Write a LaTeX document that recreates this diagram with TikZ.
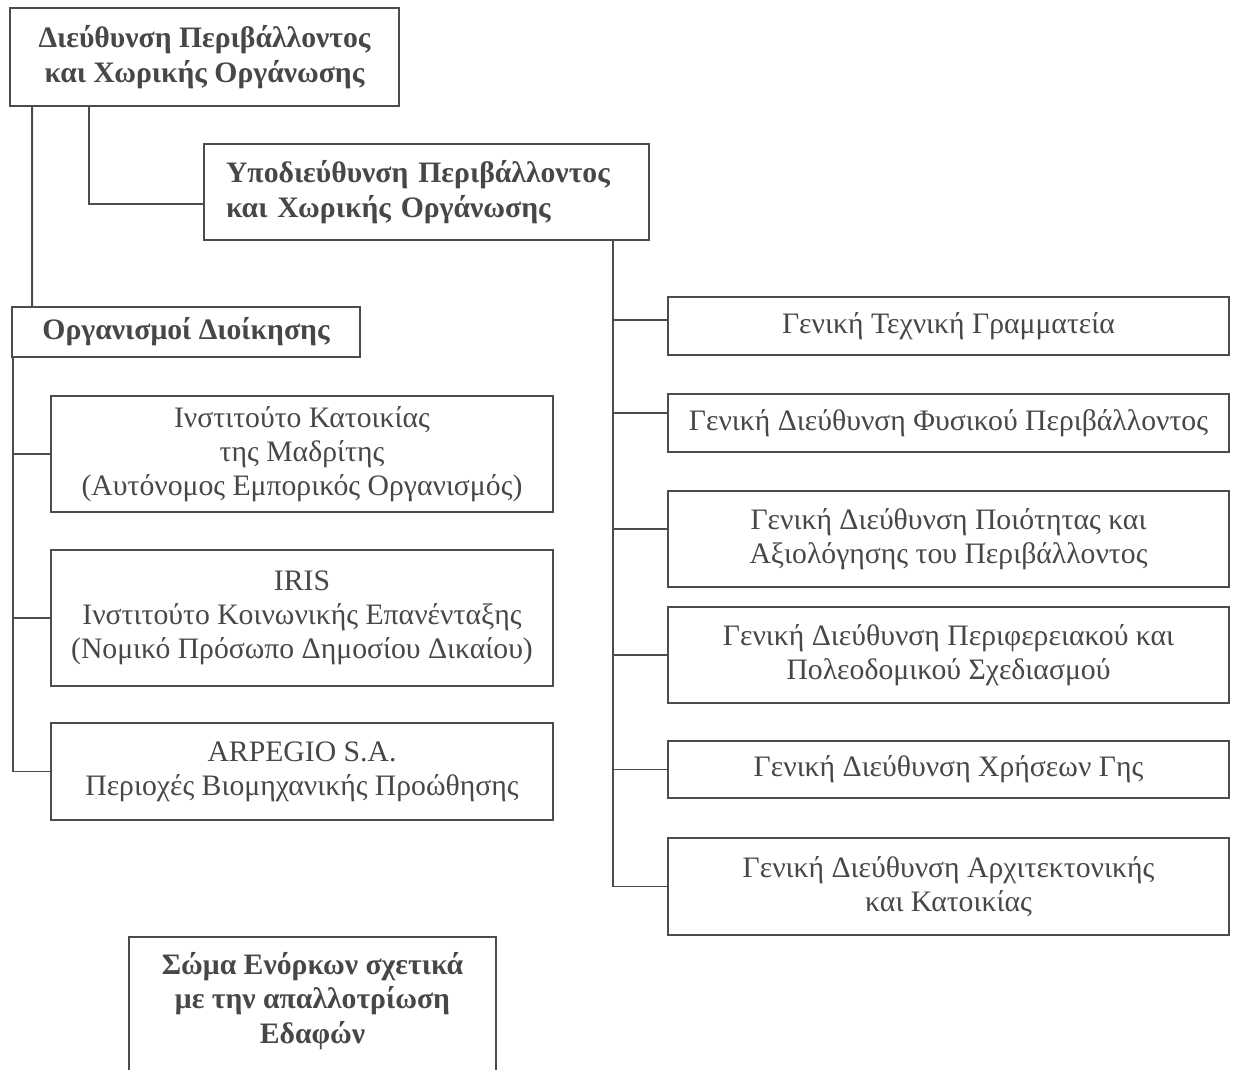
\documentclass[tikz,border=0pt]{standalone}
\usepackage{fontspec}
\setmainfont{Liberation Serif}
\usetikzlibrary{positioning}
\definecolor{boxline}{gray}{0.3}
\definecolor{boxtext}{gray}{0.28}

\begin{document}
\begin{tikzpicture}[
  x=0.02cm, y=-0.02cm,
  unit/.style={rectangle, draw=boxline, line width=1.1pt, text=boxtext, align=center,
               font=\fontsize{16.9}{19.4}\selectfont, inner sep=0pt},
  head/.style={unit, font=\fontsize{16.9}{19.8}\selectfont\bfseries},
  dept/.style={unit, minimum width=11.22cm},
  body/.style={unit, minimum width=10.04cm},
  link/.style={draw=boxline, line width=1.1pt},
]
  \useasboundingbox (0,0) rectangle (1236,1069);
  \clip (0,0) rectangle (1236,1069);

  \node[head, minimum width=7.78cm, minimum height=1.96cm] (D) at (204.5,57)
    {Διεύθυνση Περιβάλλοντος\\και Χωρικής Οργάνωσης};
  \node[head, align=left, text width=8.02cm, inner xsep=0.44cm, minimum height=1.92cm] (SUB) at (426.5,192)
    {Υποδιεύθυνση Περιβάλλοντος\\και Χωρικής Οργάνωσης};
  \node[head, minimum width=6.96cm, minimum height=1.0cm] (ORG) at (186,332) {Οργανισμοί Διοίκησης};

  \node[body, minimum height=2.32cm] (IVIMA) at (302,454)
    {Ινστιτούτο Κατοικίας\\της Μαδρίτης\\(Αυτόνομος Εμπορικός Οργανισμός)};
  \node[body, minimum height=2.72cm] (IRIS) at (302,618)
    {IRIS\\Ινστιτούτο Κοινωνικής Επανένταξης\\(Νομικό Πρόσωπο Δημοσίου Δικαίου)};
  \node[body, minimum height=1.94cm] (ARP) at (302,771.5)
    {ARPEGIO S.A.\\Περιοχές Βιομηχανικής Προώθησης};

  \node[dept, minimum height=1.16cm] (GTG) at (948.5,326) {Γενική Τεχνική Γραμματεία};
  \node[dept, minimum height=1.16cm] (FYS) at (948.5,423) {Γενική Διεύθυνση Φυσικού Περιβάλλοντος};
  \node[dept, minimum height=1.92cm] (POI) at (948.5,539)
    {Γενική Διεύθυνση Ποιότητας και\\Αξιολόγησης του Περιβάλλοντος};
  \node[dept, minimum height=1.92cm] (PER) at (948.5,655)
    {Γενική Διεύθυνση Περιφερειακού και\\Πολεοδομικού Σχεδιασμού};
  \node[dept, minimum height=1.14cm] (XRI) at (948.5,769.5) {Γενική Διεύθυνση Χρήσεων Γης};
  \node[dept, minimum height=1.94cm] (ARX) at (948.5,886.5)
    {Γενική Διεύθυνση Αρχιτεκτονικής\\και Κατοικίας};

  \node[head, anchor=north, minimum width=7.34cm, inner ysep=0.3cm, text depth=2.6cm] (JURY) at (312.5,936)
    {Σώμα Ενόρκων σχετικά\\με την απαλλοτρίωση\\Εδαφών};

  \draw[link] ([xshift=0.46cm]D.south west) -- ([xshift=0.42cm]ORG.north west);
  \draw[link] ([xshift=1.6cm]D.south west) |- ([yshift=-0.24cm]SUB.west);
  \draw[link] ([xshift=0.04cm]ORG.south west) |- (IVIMA.west);
  \draw[link] ([xshift=0.04cm]ORG.south west) |- (IRIS.west);
  \draw[link] ([xshift=0.04cm]ORG.south west) |- (ARP.west);
  \draw[link] ([xshift=-0.74cm]SUB.south east) |- ([yshift=0.12cm]GTG.west);
  \draw[link] ([xshift=-0.74cm]SUB.south east) |- ([yshift=0.2cm]FYS.west);
  \draw[link] ([xshift=-0.74cm]SUB.south east) |- ([yshift=0.2cm]POI.west);
  \draw[link] ([xshift=-0.74cm]SUB.south east) |- (PER.west);
  \draw[link] ([xshift=-0.74cm]SUB.south east) |- (XRI.west);
  \draw[link] ([xshift=-0.74cm]SUB.south east) |- (ARX.west);
\end{tikzpicture}
\end{document}
